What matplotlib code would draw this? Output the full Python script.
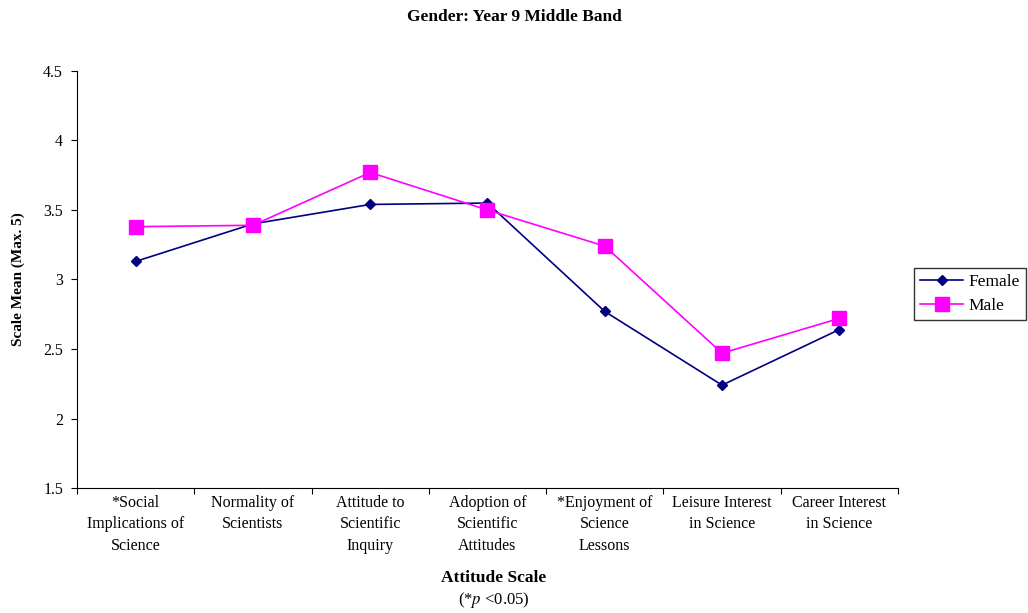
import matplotlib
matplotlib.use("Agg")
import matplotlib.pyplot as plt

# attitude scales and means
categories = ["*Social\nImplications of\nScience", "Normality of\nScientists",
              "Attitude to\nScientific\nInquiry", "Adoption of\nScientific\nAttitudes",
              "*Enjoyment of\nScience\nLessons", "Leisure Interest\nin Science",
              "Career Interest\nin Science"]
female = [3.13, 3.40, 3.54, 3.55, 2.77, 2.24, 2.64]
male = [3.38, 3.39, 3.77, 3.50, 3.24, 2.47, 2.72]
yticks = [1.5, 2, 2.5, 3, 3.5, 4, 4.5]

plt.rcParams['font.family'] = ['Liberation Serif', 'DejaVu Serif']
plt.rcParams['mathtext.fontset'] = 'stix'

fig = plt.figure(figsize=(10.28, 6.13), dpi=100)
ax = fig.add_axes([0.0749, 0.2039, 0.7986, 0.6803])

x = list(range(len(categories)))
ax.plot(x, female, color='#000080', marker='D', markersize=5.5, lw=1.2, label='Female')
ax.plot(x, male, color='#FF00FF', marker='s', markersize=10, lw=1.2, label='Male')

ax.set_xlim(-0.5, len(categories) - 0.5)
ax.set_ylim(1.5, 4.5)
ax.set_yticks(yticks)
ax.set_yticklabels([f"{v:g}" for v in yticks], fontsize=11.5)
ax.set_xticks([i - 0.5 for i in range(len(categories) + 1)])
ax.set_xticklabels([])
ax.set_xticks(x, minor=True)
ax.set_xticklabels(categories, minor=True, fontsize=11.5, linespacing=1.45)
ax.tick_params(axis='x', which='minor', length=0, pad=5)
ax.tick_params(axis='x', which='major', length=4, direction='out')
ax.tick_params(axis='y', length=4, direction='out', pad=6)

for s in ['top', 'right']:
    ax.spines[s].set_visible(False)

fig.text(0.5, 0.972, "Gender: Year 9 Middle Band", ha='center', va='center',
         fontsize=12.5, fontweight='bold')
ax.set_ylabel("Scale Mean (Max. 5)", fontsize=11, fontweight='bold', labelpad=13)
fig.text(0.4805, 0.057, "Attitude Scale", ha='center', va='center', fontsize=12.5, fontweight='bold')
fig.text(0.4805, 0.021, r"(*$\it{p}$ <0.05)", ha='center', va='center', fontsize=12)

leg = fig.legend(loc='center left', bbox_to_anchor=(0.889, 0.52), fontsize=12.5,
                 frameon=True, fancybox=False, edgecolor='black', handlelength=2.5,
                 handletextpad=0.3, borderpad=0.35, labelspacing=0.45, borderaxespad=0)
leg.get_frame().set_linewidth(1.0)

fig.savefig("out.png", dpi=100)
